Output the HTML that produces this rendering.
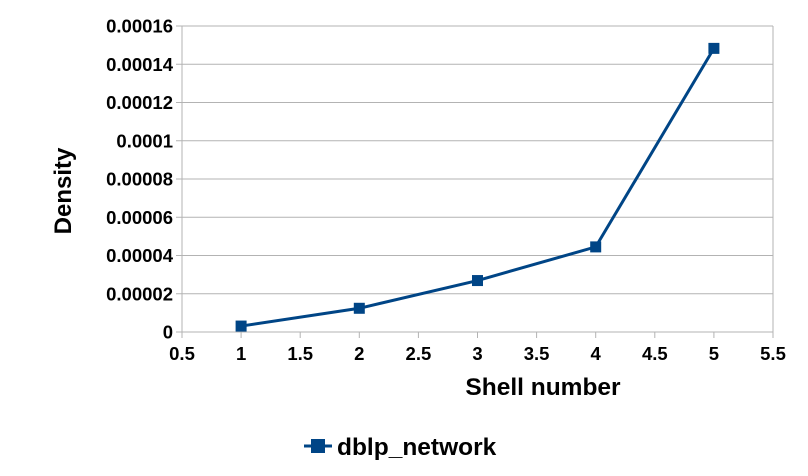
<!DOCTYPE html>
<html><head><meta charset="utf-8"><style>
body{margin:0;background:#fff;}
svg text{font-family:"Liberation Sans",sans-serif;font-weight:bold;fill:#000;}
</style></head><body>
<svg id="chart" width="808" height="471">
<g id="grid"></g><g id="axes"></g><g id="series"></g>
<text x="71" y="191" font-size="24" text-anchor="middle" transform="rotate(-90 71 191)">Density</text>
<text x="543" y="395" font-size="24.5" text-anchor="middle">Shell number</text>
<g>
<line x1="304" y1="446" x2="332" y2="446" stroke="#004586" stroke-width="3"/>
<rect x="311" y="439" width="14" height="14" fill="#004586"/>
<text x="337" y="455" font-size="24.5">dblp_network</text>
</g>
</svg>
<script>
const xVals=[1,2,3,4,5];
const yVals=[0.0000031,0.0000124,0.0000269,0.0000445,0.0001483];
const xTicks=[0.5,1,1.5,2,2.5,3,3.5,4,4.5,5,5.5];
const yTicks=[0,0.00002,0.00004,0.00006,0.00008,0.0001,0.00012,0.00014,0.00016];
const yTickLabels=["0","0.00002","0.00004","0.00006","0.00008","0.0001","0.00012","0.00014","0.00016"];
const X0=182,X1=773,Y0=332,Y1=26;
const sx=v=>X0+(v-0.5)/5*(X1-X0);
const sy=v=>Y0-v/0.00016*(Y0-Y1);
const NS="http://www.w3.org/2000/svg";
function mk(t,a,p){const e=document.createElementNS(NS,t);for(const k in a)e.setAttribute(k,a[k]);p.appendChild(e);return e;}
const grid=document.getElementById('grid'),axes=document.getElementById('axes'),ser=document.getElementById('series');
yTicks.forEach((v,i)=>{
 const l=mk('line',{x1:X0-6,x2:X1,y1:sy(v),y2:sy(v),stroke:'#b3b3b3','stroke-width':1},grid);
 
 
 const t=mk('text',{x:X0-9,y:sy(v)+6.5,'font-size':18.5,'text-anchor':'end'},axes);
 t.textContent=yTickLabels[i];
 
 
});
mk('line',{x1:X0,x2:X0,y1:Y1,y2:Y0,stroke:'#b3b3b3'},grid);
mk('line',{x1:X1,x2:X1,y1:Y1,y2:Y0,stroke:'#b3b3b3'},grid);
xTicks.forEach(v=>{
 mk('line',{x1:sx(v),x2:sx(v),y1:Y0,y2:Y0+6,stroke:'#b3b3b3'},grid);
 const t=mk('text',{x:sx(v),y:Y0+28,'font-size':18.5,'text-anchor':'middle'},axes);
 t.textContent=String(v);
 
 
});
const pl=mk('polyline',{points:xVals.map((x,i)=>sx(x)+','+sy(yVals[i])).join(' '),fill:'none',stroke:'#004586','stroke-width':3},ser);


xVals.forEach((x,i)=>{
 const r=mk('rect',{x:sx(x)-5.5,y:sy(yVals[i])-5.5,width:11,height:11,fill:'#004586'},ser);
 
 
});
</script>
</body></html>
